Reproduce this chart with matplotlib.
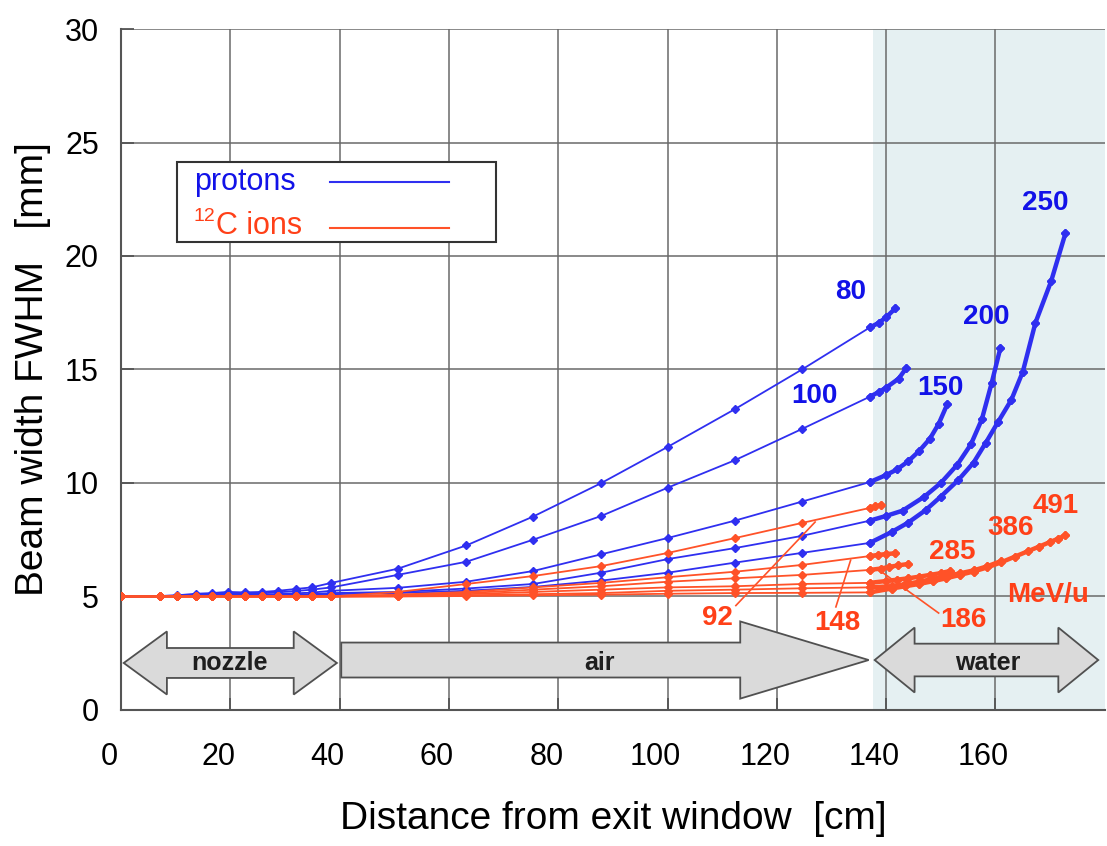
import matplotlib
matplotlib.use("Agg")
import matplotlib.pyplot as plt
import matplotlib.transforms as mtrans
from matplotlib.patches import Polygon, Rectangle
import numpy as np

plt.rcParams['font.family'] = ['Liberation Sans', 'DejaVu Sans']

# posiciones de medida (cm)
x_nozzle = [0, 7.1, 10.2, 13.7, 16.6, 19.5, 22.6, 25.8, 28.7, 32.0, 34.9, 38.5]
x_air = [50.6, 63.2, 75.4, 87.9, 100.1, 112.3, 124.6, 137.0]

# protones (MeV): nozzle, aire, agua
p_labels = ['80', '100', '150', '200', '250']
p_nozzle = {
    '80':  [5.0, 5.02, 5.05, 5.12, 5.15, 5.2, 5.18, 5.2, 5.25, 5.33, 5.4, 5.6],
    '100': [5.0, 5.02, 5.04, 5.08, 5.1, 5.14, 5.12, 5.14, 5.18, 5.24, 5.3, 5.4],
    '150': [5.0, 5.0, 5.02, 5.05, 5.06, 5.08, 5.07, 5.08, 5.1, 5.14, 5.17, 5.25],
    '200': [5.0, 5.0, 5.01, 5.03, 5.04, 5.05, 5.04, 5.05, 5.06, 5.09, 5.1, 5.15],
    '250': [5.0, 5.0, 5.0, 5.02, 5.02, 5.03, 5.03, 5.03, 5.04, 5.05, 5.06, 5.1],
}
p_air = {
    '80':  [6.22, 7.25, 8.52, 10.0, 11.6, 13.25, 15.0, 16.85],
    '100': [5.95, 6.53, 7.5, 8.55, 9.8, 11.0, 12.38, 13.8],
    '150': [5.38, 5.65, 6.12, 6.86, 7.58, 8.34, 9.18, 10.04],
    '200': [5.2, 5.35, 5.55, 6.05, 6.65, 7.13, 7.67, 8.34],
    '250': [5.15, 5.25, 5.42, 5.7, 6.05, 6.49, 6.92, 7.36],
}
p_water_x = {
    '80':  [138.6, 140.0, 141.7],
    '100': [138.6, 140.0, 142.3, 143.7],
    '150': [140.0, 142.0, 144.0, 146.0, 148.0, 149.6, 151.2],
    '200': [140.0, 143.0, 147.0, 150.0, 153.0, 155.5, 157.5, 159.3, 160.9],
    '250': [141.0, 144.0, 147.2, 150.0, 153.2, 156.0, 158.2, 160.5, 162.9,
            165.0, 167.3, 170.2, 172.8],
}
p_water_y = {
    '80':  [17.05, 17.3, 17.7],
    '100': [14.0, 14.2, 14.6, 15.07],
    '150': [10.35, 10.6, 10.95, 11.4, 11.95, 12.6, 13.48],
    '200': [8.55, 8.78, 9.4, 10.0, 10.8, 11.7, 12.8, 14.4, 15.95],
    '250': [7.84, 8.25, 8.8, 9.4, 10.13, 10.9, 11.76, 12.7, 13.66,
            14.9, 17.05, 18.9, 21.0],
}

# iones de carbono (MeV/u)
c_labels = ['92', '148', '186', '285', '386', '491']
c_nozzle = [5.0] * len(x_nozzle)
c_air = {
    '92':  [5.2, 5.55, 5.9, 6.34, 6.92, 7.57, 8.24, 8.9],
    '148': [5.08, 5.2, 5.4, 5.6, 5.85, 6.09, 6.39, 6.78],
    '186': [5.05, 5.15, 5.3, 5.45, 5.65, 5.8, 5.95, 6.17],
    '285': [5.02, 5.1, 5.2, 5.3, 5.4, 5.45, 5.55, 5.6],
    '386': [5.01, 5.05, 5.1, 5.15, 5.25, 5.3, 5.36, 5.4],
    '491': [5.0, 5.02, 5.05, 5.08, 5.12, 5.15, 5.16, 5.18],
}
c_water_x = {
    '92':  [138.0, 139.0],
    '148': [138.5, 140.0, 141.6],
    '186': [139.0, 140.5, 142.2, 144.0],
    '285': [140.0, 142.0, 144.0, 146.0, 148.0, 150.0, 151.6],
    '386': [141.0, 143.5, 146.0, 148.5, 151.0, 153.5, 156.0, 158.5, 161.0],
    '491': [141.0, 143.5, 146.0, 148.5, 151.0, 153.5, 156.0, 158.5, 161.0,
            163.5, 166.0, 168.0, 170.0, 171.5, 172.8],
}
c_water_y = {
    '92':  [8.97, 9.03],
    '148': [6.83, 6.87, 6.9],
    '186': [6.23, 6.3, 6.37, 6.43],
    '285': [5.68, 5.74, 5.8, 5.87, 5.95, 6.03, 6.12],
    '386': [5.45, 5.54, 5.65, 5.77, 5.9, 6.02, 6.15, 6.33, 6.56],
    '491': [5.35, 5.45, 5.55, 5.67, 5.8, 5.95, 6.1, 6.28, 6.5,
            6.75, 7.0, 7.2, 7.4, 7.55, 7.7],
}

x_ticks = [0, 20, 40, 60, 80, 100, 120, 140, 160]
y_ticks = [0, 5, 10, 15, 20, 25, 30]

BLUE = '#2f2ff0'
BLUE_TXT = '#1212e8'
RED = '#ff5228'
RED_TXT = '#ff4018'

fig = plt.figure(figsize=(11.07, 8.46), dpi=100)
ax = fig.add_axes([0.1093, 0.1608, 0.8887, 0.8049])
ax.set_xlim(0, 180)
ax.set_ylim(0, 30)

# zona de agua
ax.axvspan(137.5, 180, color='#e5f0f2', zorder=0, lw=0)

ax.set_xticks(x_ticks)
ax.set_yticks(y_ticks)
ax.grid(True, color='#6a6a6a', lw=1.1, zorder=1)
for s in ['top', 'right']:
    ax.spines[s].set_visible(False)
for s in ['left', 'bottom']:
    ax.spines[s].set_color('#555555')
    ax.spines[s].set_linewidth(1.5)
ax.tick_params(axis='both', direction='in', length=9, width=1.3, color='#555555',
               labelsize=22)
ax.tick_params(axis='x', pad=23)
ax.tick_params(axis='y', pad=16)
offset = mtrans.ScaledTranslation(-0.12, 0, fig.dpi_scale_trans)
for lab in ax.get_xticklabels():
    lab.set_transform(lab.get_transform() + offset)

ax.set_xlabel('Distance from exit window  [cm]', fontsize=28, labelpad=21)
ax.set_ylabel('Beam width FWHM   [mm]', fontsize=28, labelpad=10)


def draw_curve(xs, ys, x_w, y_w, color):
    ax.plot(xs, ys, color=color, lw=1.3, marker='D', ms=4, mec=color, mfc=color, zorder=3)
    ax.plot(x_w, y_w, color=color, lw=3.2, marker='D', ms=4.5, zorder=3)


for k in p_labels:
    xs = x_nozzle + x_air + p_water_x[k]
    ys = p_nozzle[k] + p_air[k] + p_water_y[k]
    draw_curve(xs, ys, [x_air[-1]] + p_water_x[k], [p_air[k][-1]] + p_water_y[k], BLUE)

for k in c_labels:
    xs = x_nozzle + x_air + c_water_x[k]
    ys = c_nozzle + c_air[k] + c_water_y[k]
    draw_curve(xs, ys, [x_air[-1]] + c_water_x[k], [c_air[k][-1]] + c_water_y[k], RED)

# etiquetas de energia
p_pos = {'80': (133.5, 18.4), '100': (126.8, 13.85), '150': (150.0, 14.2),
         '200': (158.3, 17.3), '250': (169.1, 22.33)}
for k, (x, y) in p_pos.items():
    ax.text(x, y, k, color=BLUE_TXT, fontsize=20, fontweight='bold',
            ha='center', va='center', zorder=5)

c_pos = {'92': (109.2, 4.05), '148': (131.0, 3.83), '186': (154.2, 3.96),
         '285': (152.0, 6.96), '386': (162.7, 8.0), '491': (171.0, 9.0)}
for k, (x, y) in c_pos.items():
    ax.text(x, y, k, color=RED_TXT, fontsize=20, fontweight='bold',
            ha='center', va='center', zorder=5)
ax.text(169.7, 5.07, 'MeV/u', color=RED_TXT, fontsize=20, fontweight='bold',
        ha='center', va='center', zorder=5)

# lineas guia
leaders = [((112.5, 4.6), (127.0, 8.28)),
           ((130.8, 4.54), (133.5, 6.6)),
           ((149.6, 4.27), (139.2, 6.08))]
for (x0, y0), (x1, y1) in leaders:
    ax.plot([x0, x1], [y0, y1], color=RED, lw=1.2, zorder=4)

# leyenda
ax.add_patch(Rectangle((10.2, 20.6), 58.5, 3.54, facecolor='white',
                       edgecolor='#333333', lw=1.5, zorder=6))
ax.text(13.3, 23.26, 'protons', color=BLUE_TXT, fontsize=22, va='center', zorder=7)
ax.plot([38.2, 60.1], [23.26, 23.26], color=BLUE, lw=1.5, zorder=7)
ax.text(13.2, 21.75, '12', color=RED_TXT, fontsize=14, va='center', zorder=7)
ax.text(17.3, 21.3, 'C ions', color=RED_TXT, fontsize=22, va='center', zorder=7)
ax.plot([38.2, 60.1], [21.23, 21.23], color=RED, lw=1.5, zorder=7)


# flechas
def double_arrow(x0, x1, yc, head, sh, hh):
    return [(x0, yc), (x0 + head, yc + hh), (x0 + head, yc + sh), (x1 - head, yc + sh),
            (x1 - head, yc + hh), (x1, yc), (x1 - head, yc - hh), (x1 - head, yc - sh),
            (x0 + head, yc - sh), (x0 + head, yc - hh)]


def single_arrow(x0, x1, yc, head, sh, hh):
    return [(x0, yc + sh), (x1 - head, yc + sh), (x1 - head, yc + hh), (x1, yc),
            (x1 - head, yc - hh), (x1 - head, yc - sh), (x0, yc - sh)]


arrows = [
    (double_arrow(0.5, 39.5, 2.07, 7.9, 0.66, 1.39), 'nozzle', 19.9),
    (single_arrow(40.3, 136.8, 2.2, 23.5, 0.77, 1.7), 'air', 87.5),
    (double_arrow(137.9, 178.8, 2.2, 7.3, 0.72, 1.43), 'water', 158.5),
]
for pts, name, tx in arrows:
    ax.add_patch(Polygon(pts, closed=True, facecolor='#dadada', edgecolor='#505050',
                         lw=1.3, zorder=6))
    ax.text(tx, 2.07, name, fontsize=18, fontweight='bold', color='#1e1e1e',
            ha='center', va='center', zorder=7)

fig.savefig('out.png', dpi=100)
